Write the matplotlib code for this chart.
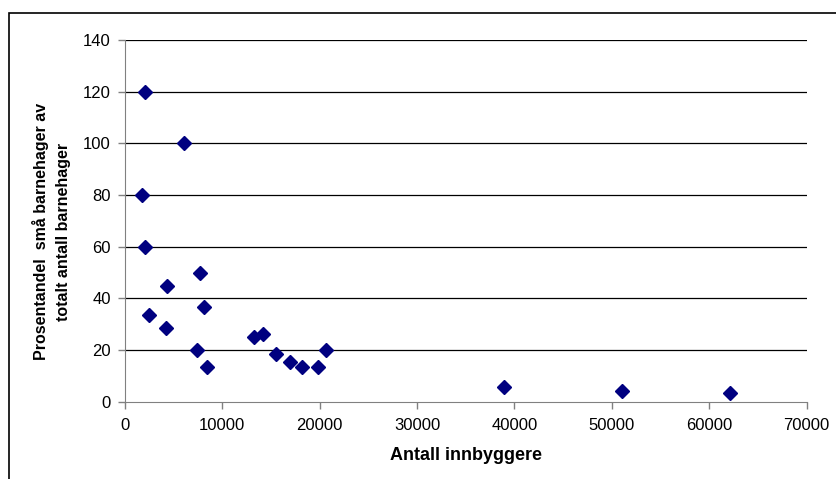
import matplotlib.pyplot as plt
from matplotlib.patches import Rectangle

# Antall innbyggere vs prosentandel små barnehager
innbyggere = [2080, 6080, 1810, 2080, 7720, 4340, 2490, 8170, 4240, 7450, 8480,
              13300, 14150, 15520, 17000, 18190, 19860, 20620, 38940, 51070, 62140]
prosent = [120, 100, 80, 60, 50, 44.6, 33.4, 36.5, 28.6, 20, 13.6,
           25.1, 26.1, 18.4, 15.4, 13.6, 13.6, 20, 5.7, 4.2, 3.3]
yticks = [0, 20, 40, 60, 80, 100, 120, 140]
xticks = [0, 10000, 20000, 30000, 40000, 50000, 60000, 70000]

plt.rcParams['font.family'] = ['Liberation Sans', 'DejaVu Sans']

fig = plt.figure(figsize=(8.37, 4.79), dpi=100)
ax = fig.add_axes([0.149, 0.1614, 0.8148, 0.7551])

# outer chart frame (cut off right and bottom like the screenshot)
fig.patches.append(Rectangle((9/837, -0.1), 2, 1 - 13/479 + 0.1, transform=fig.transFigure,
                             fill=False, edgecolor='black', linewidth=1.2))

for y in yticks[1:]:
    ax.axhline(y, color='black', linewidth=0.9, zorder=1)

ax.plot(innbyggere, prosent, linestyle='none', marker='D', markersize=7,
        color='#000080', zorder=3)

ax.set_xlim(0, 70000)
ax.set_ylim(0, 140)
ax.set_xticks(xticks)
ax.set_yticks(yticks)
ax.tick_params(labelsize=12, length=5, color='#808080', width=1)
ax.tick_params(axis='x', pad=7)
ax.tick_params(axis='y', pad=5)
ax.spines['top'].set_visible(False)
ax.spines['right'].set_visible(False)
ax.spines['left'].set_color('#808080')
ax.spines['bottom'].set_color('#808080')

ax.set_xlabel('Antall innbyggere', fontsize=13, fontweight='bold', labelpad=10)
ax.set_ylabel('Prosentandel  små barnehager av\ntotalt antall barnehager', fontsize=11.5,
              fontweight='bold', linespacing=1.6)
ax.yaxis.set_label_coords(-0.079, 0.47)

fig.savefig('out.png', dpi=100)
